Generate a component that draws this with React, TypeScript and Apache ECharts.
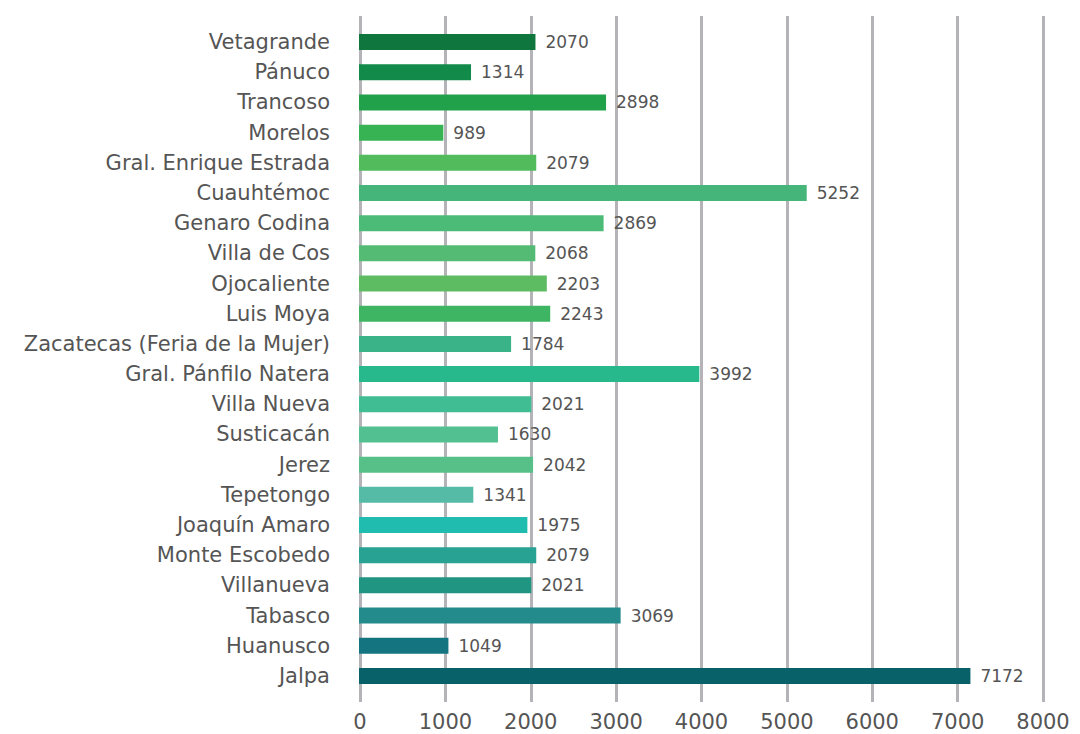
import React, { useEffect, useRef } from "react";
import * as echarts from "echarts";

const categories = [
  "Vetagrande", "Pánuco", "Trancoso", "Morelos", "Gral. Enrique Estrada", "Cuauhtémoc",
  "Genaro Codina", "Villa de Cos", "Ojocaliente", "Luis Moya", "Zacatecas (Feria de la Mujer)",
  "Gral. Pánfilo Natera", "Villa Nueva", "Susticacán", "Jerez", "Tepetongo", "Joaquín Amaro",
  "Monte Escobedo", "Villanueva", "Tabasco", "Huanusco", "Jalpa",
];
const values = [2070, 1314, 2898, 989, 2079, 5252, 2869, 2068, 2203, 2243, 1784, 3992, 2021, 1630, 2042, 1341, 1975, 2079, 2021, 3069, 1049, 7172];
const barColors = [
  "#0f763e", "#118a4a", "#21a24a", "#37b353", "#52bb5c", "#45b57a", "#4dbb78", "#54bb74",
  "#5dbb62", "#3db562", "#3ab389", "#27b88c", "#40bd92", "#52c090", "#57bf88", "#56bba6",
  "#20bcaf", "#27a293", "#209682", "#238b8c", "#147580", "#086069",
];

export default function App() {
  const ref = useRef<HTMLDivElement>(null);
  useEffect(() => {
    const chart = echarts.init(ref.current!, undefined, { renderer: "svg" });
    const font = "'DejaVu Sans', sans-serif";
    chart.setOption({
      animation: false,
      grid: [
        { left: 360, width: 683, top: 16, height: 686 },
        { left: 359, width: 682, top: 27, height: 664 },
      ],
      xAxis: [
        {
          gridIndex: 0, type: "value", min: 0, max: 8000, interval: 1000,
          axisLine: { show: false }, axisTick: { show: false },
          splitLine: { show: true, lineStyle: { color: "#b4b4b8", width: 3 } },
          axisLabel: { color: "#555", fontSize: 21, fontFamily: font, margin: 9, formatter: (v: number) => String(v) },
        },
        {
          gridIndex: 1, type: "value", min: 0, max: 8000, show: false,
          splitLine: { show: false },
        },
      ],
      yAxis: [
        { gridIndex: 0, type: "value", show: false, splitLine: { show: false } },
        {
          gridIndex: 1, type: "category", data: categories, inverse: true,
          axisLine: { show: false }, axisTick: { show: false },
          axisLabel: { color: "#555", fontSize: 21, fontFamily: font, margin: 29 },
        },
      ],
      series: [
        {
          type: "bar", xAxisIndex: 1, yAxisIndex: 1, barWidth: 16,
          data: values.map((v, i) => ({ value: v, itemStyle: { color: barColors[i] } })),
          label: { show: true, position: "right", distance: 10, color: "#555", fontSize: 17, fontFamily: font },
        },
      ],
    });
    return () => chart.dispose();
  }, []);
  return <div ref={ref} style={{ position: "absolute", left: 0, top: 0, width: 1080, height: 734 }} />;
}
